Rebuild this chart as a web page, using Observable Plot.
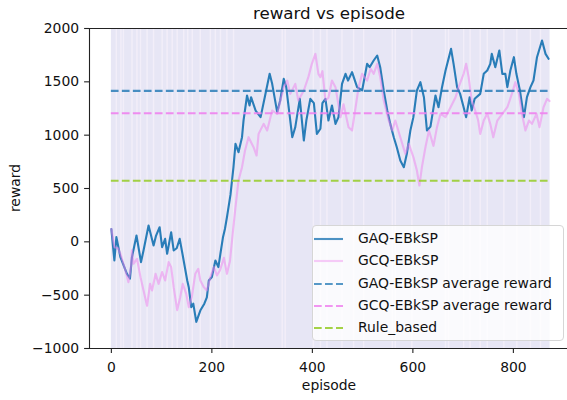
<!DOCTYPE html>
<html>
<head>
<meta charset="utf-8">
<script src="https://cdn.jsdelivr.net/npm/d3@7"></script>
<script src="https://cdn.jsdelivr.net/npm/@observablehq/plot@0.6"></script>
<style>
  body { margin: 0; background: white; }
  #fig { position: relative; width: 567px; height: 400px; font-family: "DejaVu Sans", sans-serif; color: #111; }
  #fig svg { position: absolute; left: 0; top: 0; }
  .lbl { position: absolute; white-space: nowrap; line-height: 1; }
  #legend { position: absolute; left: 312px; top: 225px; width: 252px; height: 116px;
            background: rgba(255,255,255,0.8); border: 1px solid #d6d6d6; border-radius: 4px; box-sizing: border-box; }
  .row { position: absolute; left: 0; height: 22px; width: 100%; }
  .row svg { position: absolute; left: 4px; top: 0; }
  .row span { position: absolute; left: 45px; top: 3px; font-size: 13.9px; line-height: 1; }
</style>
</head>
<body>
<div id="fig"></div>
<script>
// Smoothed reward per episode, GAQ-EBkSP
const gaqEpisodes = [0,6,10,18,31,37,41,50,59,64,74,84,89,96,101,107,111,119,124,130,136,141,151,154,159,163,169,177,185,190,194,200,207,213,217,222,226,230,237,243,247,253,260,263,270,275,278,287,297,306,315,320,330,336,343,348,360,366,375,383,388,396,403,409,416,420,426,432,439,446,452,459,466,471,479,489,499,509,514,522,529,535,542,549,555,562,568,575,582,588,595,601,608,615,622,628,635,645,651,658,665,676,681,688,694,701,706,713,717,723,734,741,748,754,757,764,772,778,784,788,794,801,806,813,821,827,834,840,847,857,864,870];
const gaqReward   = [120,-175,44,-144,-300,-344,-144,59,-190,-81,153,-34,59,137,-50,28,-112,90,-81,-60,28,-100,-362,-425,-612,-580,-750,-644,-580,-520,-362,-330,-175,-237,-112,40,120,230,440,700,919,840,981,1137,1372,1278,1356,1231,1169,1372,1575,1481,1216,1325,1528,1450,981,1075,1341,950,1137,1341,1300,1012,1060,1300,1340,1137,1278,1106,1169,1481,1575,1512,1591,1450,1419,1669,1637,1700,1747,1637,1419,1231,1106,981,887,762,700,825,1044,1169,1419,1497,1356,1044,1080,1372,1262,1450,1606,1809,1669,1450,1387,1262,1169,1356,1231,1341,1387,1575,1606,1669,1762,1637,1794,1575,1575,1450,1606,1731,1575,1419,1169,1356,1450,1512,1731,1887,1762,1716];

// Smoothed reward per episode, GCQ-EBkSP
const gcqEpisodes = [0,6,13,18,28,34,39,41,44,51,58,64,71,77,81,88,94,101,107,114,119,124,131,137,142,149,154,160,167,173,177,184,190,197,204,210,216,224,230,236,242,247,253,260,266,273,283,289,293,303,310,320,330,343,350,356,366,372,383,392,399,406,412,416,420,426,432,439,446,456,462,472,479,486,492,499,509,516,522,529,535,542,552,559,565,575,585,592,601,608,613,618,625,632,641,648,655,665,675,685,691,701,706,711,717,724,730,734,741,748,754,760,768,778,788,797,804,811,817,824,831,837,846,852,860,867,872];
const gcqReward   = [120,-50,-60,-112,-269,-378,-237,-80,-206,-159,-331,-456,-600,-394,-456,-300,-394,-284,-362,-190,-237,-425,-640,-519,-394,-487,-612,-519,-300,-253,-362,-425,-456,-331,-237,-315,-269,-150,-300,-180,100,325,575,700,856,981,887,809,1012,1106,1044,1231,1200,1450,1512,1387,1481,1325,1419,1544,1669,1762,1575,1544,1600,1325,1350,1512,1450,1169,1290,1075,1044,1262,1450,1575,1512,1622,1575,1669,1544,1325,1137,1044,1137,981,825,919,794,669,528,700,887,1044,900,1075,1200,1170,1262,1356,1450,1575,1669,1544,1325,1231,1137,1012,1137,1200,1106,981,1137,1200,1262,1387,1497,1387,1200,1044,1137,1106,1200,1075,1262,1340,1320];

// Average rewards and the rule-based baseline
const gaqAverage = 1415;
const gcqAverage = 1205;
const ruleBased = 572;

// Raw per-episode rewards swing across the whole axis; episodes whose raw trace is sparse
const lastEpisode = 873;
const rawLow = -1000, rawHigh = 2000;
const sparseEpisodes = [10,19,24,41,51,58,71,84,101,111,121,131,144,152,161,177,197,207,217,230,243,340,346,402,416,429,459,482,502,559,565,598,665,671,701,714,734,748,781,807,834,854];

const xTicks = [0,200,400,600,800];
const yTicks = [-1000,-500,0,500,1000,1500,2000];
const tickFormat = d3.format("d");

const gaq = gaqEpisodes.map((e, i) => ({episode: e, reward: gaqReward[i]}));
const gcq = gcqEpisodes.map((e, i) => ({episode: e, reward: gcqReward[i]}));

const blue = "#1f77b4", pink = "#ee82ee", lime = "#9acd32";
const dash = "7.7,3.3";

const chart = Plot.plot({
  width: 567,
  height: 400,
  marginLeft: 89,
  marginRight: 0,
  marginTop: 28,
  marginBottom: 52,
  style: {fontFamily: "DejaVu Sans, sans-serif", fontSize: "13.9px", background: "transparent", color: "#111"},
  x: {domain: [-43.5, 907.7], ticks: xTicks},
  y: {domain: [-1000, 2000], ticks: yTicks},
  marks: [
    Plot.rect([0], {x1: 0, x2: lastEpisode, y1: rawLow, y2: rawHigh, fill: "#e7e6f5"}),
    Plot.ruleX(sparseEpisodes, {x: d => d, y1: rawLow, y2: rawHigh, stroke: "#fbf4fb", strokeOpacity: 0.55, strokeWidth: 1.5}),
    Plot.line(gaq, {x: "episode", y: "reward", stroke: blue, strokeOpacity: 0.95, strokeWidth: 2.1}),
    Plot.line(gcq, {x: "episode", y: "reward", stroke: pink, strokeOpacity: 0.5, strokeWidth: 2.1}),
    Plot.ruleY([gaqAverage], {x1: 0, x2: lastEpisode, stroke: blue, strokeOpacity: 0.8, strokeWidth: 2.1, strokeDasharray: dash}),
    Plot.ruleY([gcqAverage], {x1: 0, x2: lastEpisode, stroke: pink, strokeOpacity: 0.9, strokeWidth: 2.1, strokeDasharray: dash}),
    Plot.ruleY([ruleBased], {x1: 0, x2: lastEpisode, stroke: lime, strokeOpacity: 0.9, strokeWidth: 2.1, strokeDasharray: dash}),
    // spines
    Plot.ruleX([-43.5], {stroke: "#222", strokeWidth: 1.1}),
    Plot.ruleY([-1000, 2000], {stroke: "#222", strokeWidth: 1.1}),
    Plot.axisX({ticks: xTicks, tickFormat, tickSize: 4.9, tickPadding: 8.5, label: null, stroke: "#222", strokeWidth: 1.1}),
    Plot.axisY({ticks: yTicks, tickFormat, tickSize: 4.9, tickPadding: 5.5, label: null, stroke: "#222", strokeWidth: 1.1})
  ]
});

const fig = document.getElementById("fig");
fig.appendChild(chart);

function addLabel(text, css) {
  const d = document.createElement("div");
  d.className = "lbl";
  d.textContent = text;
  Object.assign(d.style, css);
  fig.appendChild(d);
  return d;
}
addLabel("reward vs episode", {left: "329px", top: "5px", fontSize: "16.7px", transform: "translateX(-50%)"});
addLabel("episode", {left: "329px", top: "379px", fontSize: "13.9px", transform: "translateX(-50%)"});
addLabel("reward", {left: "16px", top: "188px", fontSize: "13.9px", transform: "translate(-50%,-50%) rotate(-90deg)"});

// legend
const legend = document.createElement("div");
legend.id = "legend";
fig.appendChild(legend);
const entries = [
  {label: "GAQ-EBkSP", color: blue, opacity: 0.8, dashed: false},
  {label: "GCQ-EBkSP", color: pink, opacity: 0.4, dashed: false},
  {label: "GAQ-EBkSP average reward", color: blue, opacity: 0.75, dashed: true},
  {label: "GCQ-EBkSP average reward", color: pink, opacity: 0.85, dashed: true},
  {label: "Rule_based", color: lime, opacity: 0.9, dashed: true}
];
entries.forEach((e, i) => {
  const row = document.createElement("div");
  row.className = "row";
  row.style.top = (3 + i * 22.3) + "px";
  row.innerHTML = `<svg width="32" height="22"><line x1="1" x2="30" y1="10" y2="10" stroke="${e.color}" stroke-opacity="${e.opacity}" stroke-width="2.1" ${e.dashed ? `stroke-dasharray="${dash}"` : ""}/></svg><span>${e.label}</span>`;
  legend.appendChild(row);
});
</script>
</body>
</html>
